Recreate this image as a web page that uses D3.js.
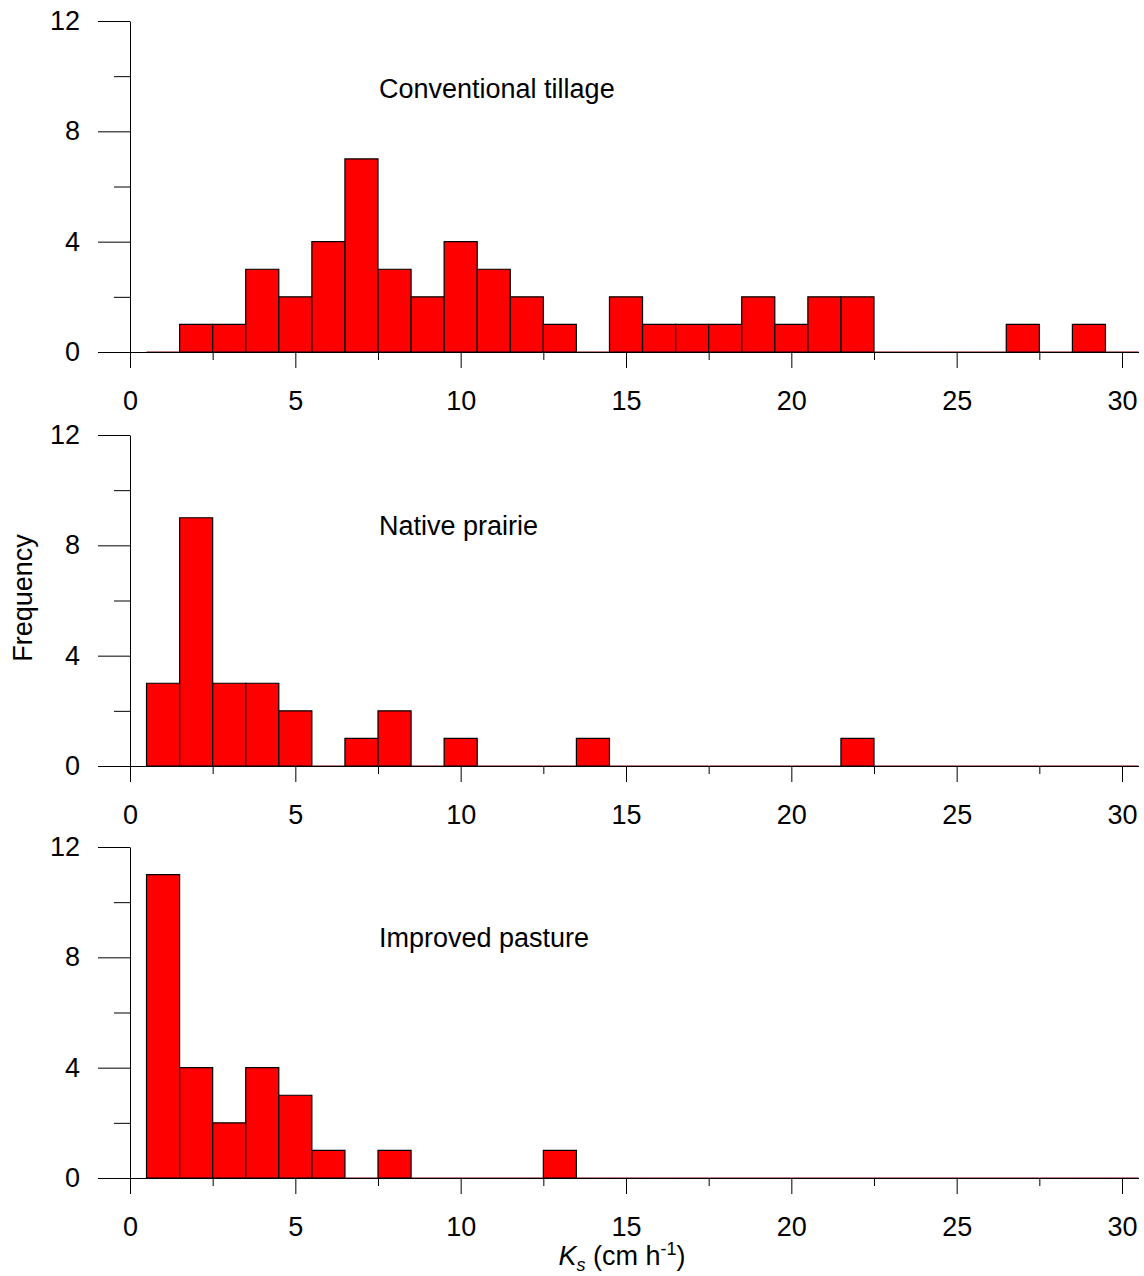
<!DOCTYPE html>
<html>
<head>
<meta charset="utf-8">
<script src="https://cdn.jsdelivr.net/npm/d3@7/dist/d3.min.js"></script>
<style>
  body { margin: 0; background: #fff; }
  svg text { font-family: "Liberation Sans", Arial, sans-serif; fill: #000; }
</style>
</head>
<body>
<div id="chart"></div>
<script>
// bin centres (Ks, cm/h) and counts per land use
var bins = d3.range(1, 31);
var conventional = [0,1,1,3,2,4,7,3,2,4,3,2,1,0,2,1,1,1,2,1,2,2,0,0,0,0,1,0,1,0];
var prairie      = [3,9,3,3,2,0,1,2,0,1,0,0,0,1,0,0,0,0,0,0,0,1,0,0,0,0,0,0,0,0];
var pasture      = [11,4,2,4,3,1,0,1,0,0,0,0,1,0,0,0,0,0,0,0,0,0,0,0,0,0,0,0,0,0];
var panelNames   = ["Conventional tillage", "Native prairie", "Improved pasture"];
var xMajor = [0, 5, 10, 15, 20, 25, 30];
var xMinor = [2.5, 7.5, 12.5, 17.5, 22.5, 27.5];
var yMajor = [0, 4, 8, 12];
var yMinor = [2, 6, 10];

var W = 1144, H = 1276;
var panelTops = [21, 435, 847];   // pixel row of y = 12
var panelH = 331;
var labelOffset = [77, 100, 100];

var svg = d3.select("#chart").append("svg")
  .attr("width", W).attr("height", H);

var x = d3.scaleLinear().domain([0, 30.5]).range([130, 130 + 30.5 * (992 / 30)]);

function drawPanel(idx, counts) {
  var top = panelTops[idx];
  var y = d3.scaleLinear().domain([0, 12]).range([top + panelH, top]);
  var g = svg.append("g");
  var y0 = y(0);

  // bars
  g.selectAll("path.bar")
    .data(counts.map(function(c, i) { return { x: bins[i], v: c }; }))
    .enter().append("path")
    .attr("class", "bar")
    .attr("d", function(d) {
      var x0 = x(d.x - 0.5), x1 = x(d.x + 0.5), yt = y(d.v);
      return "M" + x0 + "," + y0 + "V" + yt + "H" + x1 + "V" + y0 + "Z";
    })
    .attr("fill", "#ff0000")
    .attr("stroke", function(d) { return d.v === 0 ? "#7a0000" : "#000"; })
    .attr("stroke-width", 1.2);

  // x axis
  var xa = g.append("g").attr("transform", "translate(0," + y0 + ")")
    .call(d3.axisBottom(x).tickValues(xMajor).tickSize(16).tickSizeOuter(0)
      .tickPadding(23).tickFormat(d3.format("d")));
  xa.select(".domain").attr("stroke", "#000");
  xa.selectAll("text").style("font-size", "27px");
  g.append("g").attr("transform", "translate(0," + y0 + ")")
    .call(d3.axisBottom(x).tickValues(xMinor).tickSize(8).tickFormat(""))
    .select(".domain").remove();

  // y axis
  var ya = g.append("g").attr("transform", "translate(" + x(0) + ",0)")
    .call(d3.axisLeft(y).tickValues(yMajor).tickSize(32).tickSizeOuter(0)
      .tickPadding(18).tickFormat(d3.format("d")));
  ya.selectAll("text").style("font-size", "27px");
  g.append("g").attr("transform", "translate(" + x(0) + ",0)")
    .call(d3.axisLeft(y).tickValues(yMinor).tickSize(16).tickFormat(""))
    .select(".domain").remove();

  g.append("text")
    .attr("x", 379).attr("y", top + labelOffset[idx])
    .style("font-size", "27px")
    .text(panelNames[idx]);
}

drawPanel(0, conventional);
drawPanel(1, prairie);
drawPanel(2, pasture);

svg.selectAll(".tick line").attr("stroke", "#000");

// axis titles
svg.append("text")
  .attr("transform", "translate(32,598) rotate(-90)")
  .attr("text-anchor", "middle")
  .style("font-size", "27px")
  .text("Frequency");

var xt = svg.append("text")
  .attr("x", 622).attr("y", 1265)
  .attr("text-anchor", "middle")
  .style("font-size", "27px");
xt.append("tspan").style("font-style", "italic").text("K");
xt.append("tspan").attr("dy", 6).style("font-size", "18px").style("font-style", "italic").text("s");
xt.append("tspan").attr("dy", -6).text(" (cm h");
xt.append("tspan").attr("dy", -10).style("font-size", "18px").text("-1");
xt.append("tspan").attr("dy", 10).text(")");
</script>
</body>
</html>
